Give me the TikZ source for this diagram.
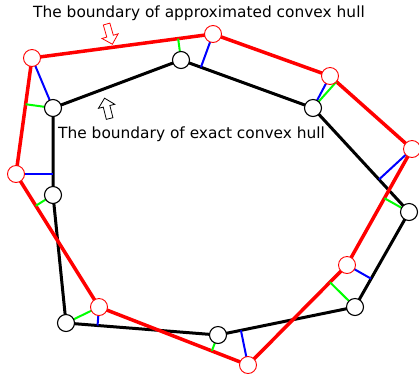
\documentclass[tikz,border=0pt]{standalone}
\usepackage{fontspec}
\setmainfont{DejaVu Sans}
\usetikzlibrary{calc,shapes.arrows,backgrounds}

\tikzset{
  apx/.style={circle, draw=red, fill=white, line width=0.9pt, minimum size=17pt, inner sep=0pt},
  exa/.style={circle, draw=black, fill=white, line width=1.1pt, minimum size=17pt, inner sep=0pt},
  apxedge/.style={red, line width=3.5pt},
  exaedge/.style={black, line width=3pt},
  tored/.style={blue, line width=2pt},
  toexa/.style={green, line width=2pt},
  hulltext/.style={inner sep=0pt, font=\fontsize{15.4}{18}\selectfont},
  hollowarrow/.style={single arrow, fill=white, line width=0.8pt, inner xsep=0pt, inner ysep=3pt,
    minimum height=21pt, minimum width=0pt, single arrow head extend=5pt}
}

\begin{document}
\begin{tikzpicture}[x=1pt, y=-1pt]

\useasboundingbox (0,0) rectangle (419,376);

%Approximated hull vertices

\node [apx] (a1) at (32,58) {};
\node [apx] (a2) at (213,34) {};
\node [apx] (a3) at (330,76) {};
\node [apx] (a4) at (412,149) {};
\node [apx] (a5) at (347,265) {};
\node [apx] (a6) at (248,365) {};
\node [apx] (a7) at (99,307) {};
\node [apx] (a8) at (16,174) {};

%Exact hull vertices

\node [exa] (e1) at (53,108) {};
\node [exa] (e2) at (181,60) {};
\node [exa] (e3) at (313,108) {};
\node [exa] (e4) at (409,212) {};
\node [exa] (e5) at (355,307) {};
\node [exa] (e6) at (218,335) {};
\node [exa] (e7) at (66,323) {};
\node [exa] (e8) at (53,195) {};

\begin{pgfonlayer}{background}

%Hull boundaries

\draw [exaedge] (e1.center) -- (e2.center) -- (e3.center) -- (e4.center) -- (e5.center) -- (e6.center) -- (e7.center) -- (e8.center) -- cycle;
\draw [apxedge] (a1.center) -- (a2.center) -- (a3.center) -- (a4.center) -- (a5.center) -- (a6.center) -- (a7.center) -- (a8.center) -- cycle;

%Distances from approximated vertices to exact hull

\draw [tored] (a1.center) -- (e1.center);
\draw [tored] (a2.center) -- ($(e2.center)!(a2.center)!(e3.center)$);
\draw [tored] (a3.center) -- (e3.center);
\draw [tored] (a4.center) -- ($(e3.center)!(a4.center)!(e4.center)$);
\draw [tored] (a5.center) -- ($(e4.center)!(a5.center)!(e5.center)$);
\draw [tored] (a6.center) -- ($(e6.center)!(a6.center)!(e5.center)$);
\draw [tored] (a7.center) -- ($(e7.center)!(a7.center)!(e6.center)$);
\draw [tored] (a8.center) -- ($(e8.center)!(a8.center)!(e1.center)$);

%Distances from exact vertices to approximated hull

\draw [toexa] (e1.center) -- ($(a1.center)!(e1.center)!(a8.center)$);
\draw [toexa] (e2.center) -- ($(a1.center)!(e2.center)!(a2.center)$);
\draw [toexa] (e3.center) -- ($(a3.center)!(e3.center)!(a4.center)$);
\draw [toexa] (e4.center) -- ($(a4.center)!(e4.center)!(a5.center)$);
\draw [toexa] (e5.center) -- ($(a5.center)!(e5.center)!(a6.center)$);
\draw [toexa] (e6.center) -- ($(a7.center)!(e6.center)!(a6.center)$);
\draw [toexa] (e7.center) -- (a7.center);
\draw [toexa] (e8.center) -- ($(a8.center)!(e8.center)!(a7.center)$);

\end{pgfonlayer}

%Labels

\node [hulltext, anchor=base west] (apxtext) at (33,17.5) {The boundary of approximated convex hull};
\node [hulltext, anchor=base west] (exatext) at (58,138) {The boundary of exact convex hull};

\node [hollowarrow, draw=red, rotate=-74] (apxarrow) at (109,32.5) {};
\node [hollowarrow, draw=black, rotate=104] (exaarrow) at (107.5,110) {};

\end{tikzpicture}
\end{document}
